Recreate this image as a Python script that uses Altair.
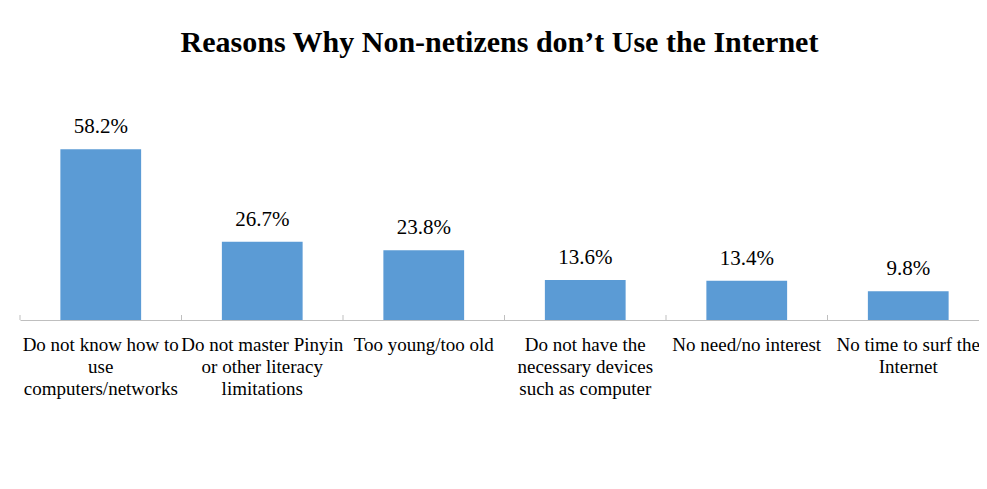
import altair as alt
import pandas as pd

categories = [
    "Do not know how to\nuse\ncomputers/networks",
    "Do not master Pinyin\nor other literacy\nlimitations",
    "Too young/too old",
    "Do not have the\nnecessary devices\nsuch as computer",
    "No need/no interest",
    "No time to surf the\nInternet",
]
values = [58.2, 26.7, 23.8, 13.6, 13.4, 9.8]

df = pd.DataFrame({"cat": categories, "v": values})

W, H = 959, 220
XR = 969
SERIF = "Liberation Serif"

xenc = alt.X(
    "cat:N",
    sort=None,
    title=None,
    scale=alt.Scale(paddingInner=0, paddingOuter=0, range=[0, XR]),
    axis=alt.Axis(
        labelExpr="split(datum.label, '\\n')",
        labelAngle=0,
        labelAlign="center",
        labelBaseline="top",
        labelFont=SERIF,
        labelFontSize=19,
        labelColor="#000000",
        labelLineHeight=22,
        labelLimit=0,
        labelPadding=15,
        ticks=False,
        domainColor="#bfbfbf",
        domainWidth=1,
        grid=False,
    ),
)
yscale = alt.Scale(domain=[0, 75])

base = alt.Chart(df)

bars = base.mark_bar(color="#5B9BD5", width=alt.RelativeBandSize(0.5)).encode(
    x=xenc,
    y=alt.Y("v:Q", scale=yscale, axis=None),
)

labels = base.transform_calculate(
    lab="format(datum.v, '.1f') + '%'"
).mark_text(
    font=SERIF, fontSize=21, color="#000000", baseline="alphabetic", dy=-16
).encode(
    x=alt.X("cat:N", sort=None),
    y=alt.Y("v:Q", scale=yscale),
    text="lab:N",
)

ticks = base.mark_rule(color="#bfbfbf", strokeWidth=1).encode(
    x=alt.X("cat:N", sort=None, bandPosition=0),
    y=alt.value(H - 5),
    y2=alt.value(H),
)

chart = (
    alt.layer(bars, ticks, labels)
    .properties(
        width=W,
        height=H,
        background="white",
        autosize=alt.AutoSizeParams(type="none"),
        padding={"left": 12, "top": 92, "right": 0, "bottom": 90},
        title=alt.TitleParams(
            "Reasons Why Non-netizens don’t Use the Internet",
            font=SERIF,
            fontSize=30,
            fontWeight="bold",
            color="#000000",
            anchor="middle",
            offset=42,
        ),
    )
    .configure_view(stroke="transparent", strokeWidth=0)
)

chart.save("out.html", embed_options={"renderer": "svg", "actions": False})
